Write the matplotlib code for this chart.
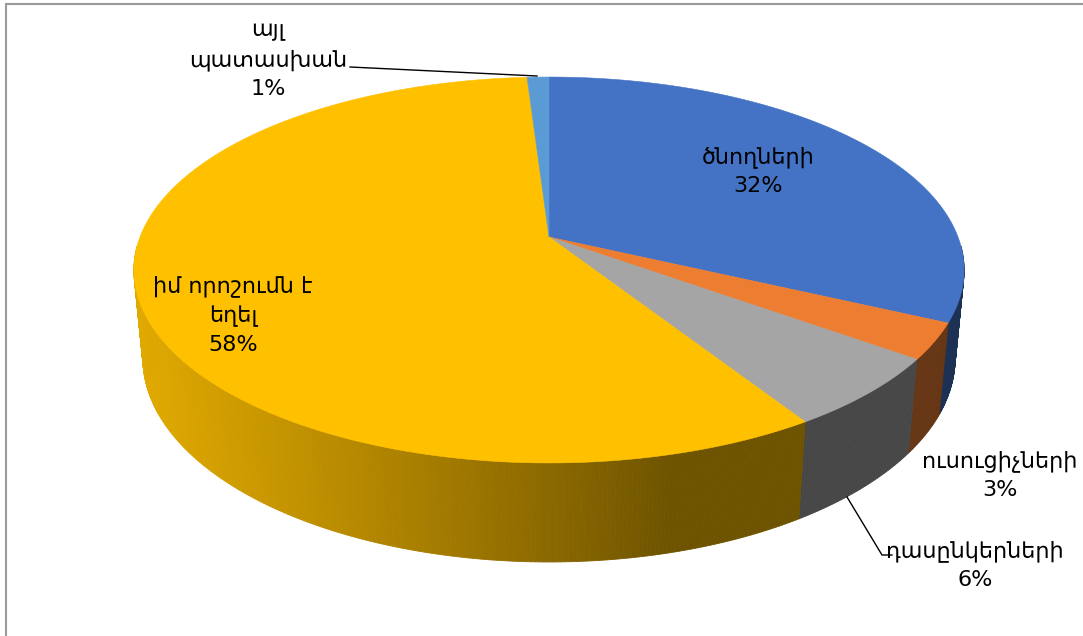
import numpy as np
import matplotlib
matplotlib.use("Agg")
import matplotlib.pyplot as plt
from matplotlib.colors import to_rgb

labels = ['ծնողների', 'ուսուցիչների', 'դասընկերների', 'իմ որոշումն է\nեղել', 'այլ\nպատասխան']
shares = [32, 3, 6, 58, 1]
colors = ['#4472C4', '#ED7D31', '#A5A5A5', '#FFC000', '#5B9BD5']

# label anchors in pixels (centre of the text block)
label_pos = [(758, 171), (1000, 475), (975, 565), (233, 315), (268, 60)]

plt.rcParams['font.family'] = ['DejaVu Sans']

# perspective view of the disc, in pixel units
ax0, ay0 = 549, 237      # apex of the pie
W = 409
sin_a, cos_a = 0.458, 0.889
k = 0.171
thick = 0.245            # thickness / radius
rd = 0.192               # radius / camera distance


def proj(phi, down=0.0):
    # phi in degrees, clockwise from the back; down=0 top face, 1 bottom rim
    p = np.radians(phi)
    h = thick * down
    depth = 1 + k * np.cos(p) + h * rd * sin_a
    x = ax0 + W * np.sin(p) / depth
    y = ay0 - W * (np.cos(p) * sin_a - h * cos_a) / depth
    return x, y


def shade(phi):
    return 0.43 + 0.45 * max(0.0, np.cos(np.radians(phi - 255)))


fig = plt.figure(figsize=(10.83, 6.36), dpi=100)
ax = fig.add_axes([0, 0, 1, 1])
ax.set_xlim(0, 1083)
ax.set_ylim(636, 0)
ax.axis('off')

bounds = np.concatenate([[0], np.cumsum(shares)]) * 360.0 / sum(shares)

# side wall, far strips first
strips = []
for i in range(len(shares)):
    a0, a1 = bounds[i], bounds[i + 1]
    n = max(2, int((a1 - a0) / 0.5))
    ph = np.linspace(a0, a1, n + 1)
    for j in range(n):
        pm = 0.5 * (ph[j] + ph[j + 1])
        if np.cos(np.radians(pm)) > -0.05:
            continue
        strips.append((np.cos(np.radians(pm)), ph[j], ph[j + 1], i))
strips.sort(key=lambda s: -s[0])
for _, p0, p1, i in strips:
    base = np.array(to_rgb(colors[i]))
    c = np.clip(base * shade(0.5 * (p0 + p1)), 0, 1)
    xt0, yt0 = proj(p0)
    xt1, yt1 = proj(p1)
    xb1, yb1 = proj(p1, 1)
    xb0, yb0 = proj(p0, 1)
    ax.fill([xt0, xt1, xb1, xb0], [yt0, yt1, yb1, yb0], color=c,
            lw=0.6, ec=c, zorder=2)

# top face
for i in range(len(shares)):
    ph = np.linspace(bounds[i], bounds[i + 1], 200)
    xs, ys = proj(ph)
    ax.fill(np.r_[ax0, xs], np.r_[ay0, ys], color=colors[i], lw=0.4,
            ec=colors[i], zorder=3)

# labels
for i in range(len(shares)):
    x, y = label_pos[i]
    ax.text(x, y, '%s\n%d%%' % (labels[i], shares[i]), ha='center', va='center',
            multialignment='center', fontsize=16, color='#000000',
            linespacing=1.5, zorder=5)

# leader lines
ax.plot([350, 537], [67, 76], color='black', lw=1, zorder=4)
ax.plot([847, 882, 892], [497, 555, 555], color='black', lw=1, zorder=4)

# chart border (left and top only are inside the picture)
ax.plot([6, 6], [660, 4], color='#9a9a9a', lw=1.5, zorder=1)
ax.plot([6, 1083], [4, 4], color='#9a9a9a', lw=1.5, zorder=1,
        solid_capstyle='butt')

fig.savefig('out.png', dpi=100, facecolor='white')
